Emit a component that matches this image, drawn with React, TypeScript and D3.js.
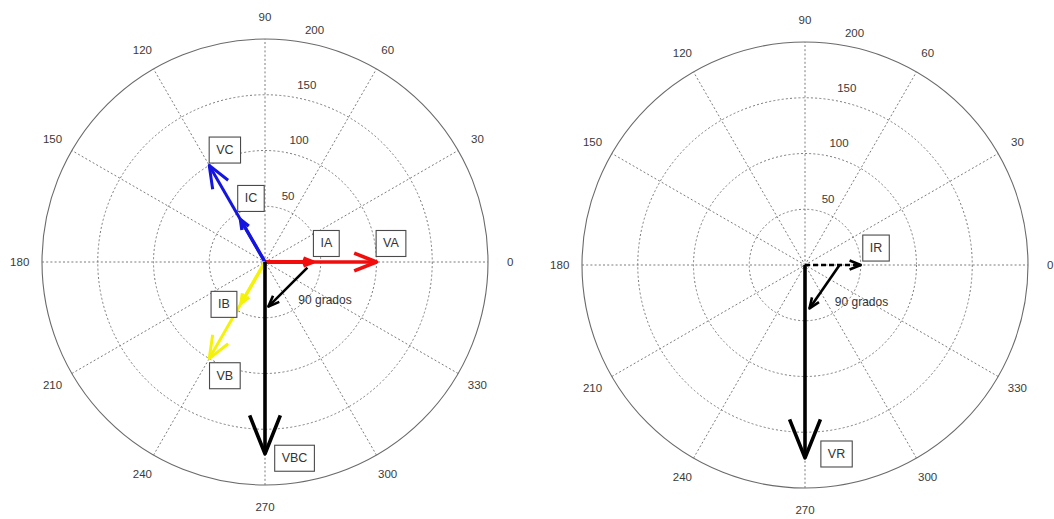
import React from 'react';
import * as d3 from 'd3';

const W = 1054;
const H = 519;

// polar grid
const radialTicks = [50, 100, 150, 200];
const angleTicks = [0, 30, 60, 90, 120, 150, 180, 210, 240, 270, 300, 330];
const rMax = 200;

// left diagram: phase voltages, line currents and the line voltage VBC
const leftNames = ['VA', 'IA', 'VC', 'IC', 'VB', 'IB', 'VBC'];
const leftMagnitudes = [100, 43, 100, 44, 100, 43, 172];
const leftAngles = [0, 0, 120, 120, 240, 240, 270];

// right diagram: single phasor pair
const rightNames = ['IR', 'VR'];
const rightMagnitudes = [50, 173];
const rightAngles = [0, 270];

// "90 grados" marker arrows, cartesian data coords [from, to]
const leftMarker = [[38, -5], [3, -40]];
const rightMarker = [[31, 0], [4, -39]];

// boxed labels (centre, data coords)
const leftLabelText = ['VC', 'IC', 'IA', 'VA', 'IB', 'VB', 'VBC'];
const leftLabelX = [-36, -12.6, 55, 113, -36.8, -36, 26.5];
const leftLabelY = [100.4, 57, 16.6, 16.6, -38, -102, -176];

const rightLabelText = ['IR', 'VR'];
const rightLabelX = [63.7, 28.3];
const rightLabelY = [15.2, -169.5];

// free text
const markerText = '90 grados';
const leftMarkerTextPos = [53.8, -34];
const rightMarkerTextPos = [50.7, -33.2];

const phasorStyle: Record<string, { color: string; width: number; dash?: string }> = {
  VA: { color: '#f20d0d', width: 3.6 },
  IA: { color: '#f20d0d', width: 3.8 },
  VC: { color: '#1515e0', width: 3 },
  IC: { color: '#1515e0', width: 3.4 },
  VB: { color: '#f5f20a', width: 3 },
  IB: { color: '#f5f20a', width: 3.4 },
  VBC: { color: '#000', width: 3.6 },
  IR: { color: '#000', width: 2.6, dash: '5 3' },
  VR: { color: '#000', width: 3.6 },
};

const FONT = '"Liberation Sans", Arial, sans-serif';
const R_PX = 223;

const rScale = d3.scaleLinear().domain([0, rMax]).range([0, R_PX]);

let measureCtx: CanvasRenderingContext2D | null = null;
function textWidth(t: string, size: number) {
  if (!measureCtx) measureCtx = document.createElement('canvas').getContext('2d');
  if (!measureCtx) return t.length * size * 0.6;
  measureCtx.font = `${size}px ${FONT}`;
  return measureCtx.measureText(t).width;
}

const line = d3.line<[number, number]>();

// compass-style arrow: shaft plus an open head of 0.2 length, 0.08 half-width
function arrowParts(x0: number, y0: number, x1: number, y1: number) {
  const dx = x1 - x0;
  const dy = y1 - y0;
  const L = Math.hypot(dx, dy);
  const ux = dx / L;
  const uy = dy / L;
  const bx = x1 - 0.2 * L * ux;
  const by = y1 - 0.2 * L * uy;
  const hw = 0.08 * L;
  const shaft = line([[x0, y0], [x1, y1]]) as string;
  const head = line([
    [bx - uy * hw, by + ux * hw],
    [x1, y1],
    [bx + uy * hw, by - ux * hw],
  ]) as string;
  return { shaft, head };
}

type PolarProps = {
  cx: number;
  cy: number;
  names: string[];
  magnitudes: number[];
  angles: number[];
  marker: number[][];
  labelText: string[];
  labelX: number[];
  labelY: number[];
  markerTextPos: number[];
};

function PolarPanel(p: PolarProps) {
  const { cx, cy } = p;
  const px = (x: number) => cx + rScale(x);
  const py = (y: number) => cy - rScale(y);
  const toRad = (a: number) => (a * Math.PI) / 180;
  const grid = '#7c7c7c';
  const dots = '2 2.2';

  const angleLabelR = rScale(rMax * 1.1);
  const a82 = toRad(82);

  return (
    <g>
      <circle cx={cx} cy={cy} r={rScale(rMax)} fill="#fff" stroke="#6a6a6a" strokeWidth={1.1} />
      {radialTicks.slice(0, -1).map((t) => (
        <circle key={t} cx={cx} cy={cy} r={rScale(t)} fill="none" stroke={grid} strokeWidth={1} strokeDasharray={dots} />
      ))}
      {angleTicks.slice(0, 6).map((a) => {
        const c = Math.cos(toRad(a)) * rScale(rMax);
        const s = Math.sin(toRad(a)) * rScale(rMax);
        return (
          <line key={a} x1={cx - c} y1={cy + s} x2={cx + c} y2={cy - s} stroke={grid} strokeWidth={1} strokeDasharray={dots} />
        );
      })}
      {angleTicks.map((a) => (
        <text
          key={a}
          x={cx + angleLabelR * Math.cos(toRad(a))}
          y={cy - angleLabelR * Math.sin(toRad(a))}
          fontFamily={FONT}
          fontSize={11.5}
          fill="#3a3a3a"
          textAnchor="middle"
          dominantBaseline="central"
        >
          {a}
        </text>
      ))}
      {radialTicks.map((t) => {
        const rr = rScale(t + rMax / 4 / 20);
        return (
          <text
            key={t}
            x={cx + rr * Math.cos(a82) + 8.5}
            y={cy - rr * Math.sin(a82) - 4.5}
            fontFamily={FONT}
            fontSize={11.5}
            fill="#3a3a3a"
          >
            {t}
          </text>
        );
      })}

      {p.names.map((n, i) => {
        const st = phasorStyle[n];
        const m = p.magnitudes[i];
        const a = toRad(p.angles[i]);
        const x1 = px(m * Math.cos(a));
        const y1 = py(m * Math.sin(a));
        const { shaft, head } = arrowParts(cx, cy, x1, y1);
        return (
          <g key={n} fill="none" stroke={st.color} strokeWidth={st.width} strokeLinejoin="round" strokeLinecap="butt">
            <path d={shaft} strokeDasharray={st.dash} />
            <path d={head} />
          </g>
        );
      })}

      {(() => {
        const [f, t] = p.marker;
        const { shaft, head } = arrowParts(px(f[0]), py(f[1]), px(t[0]), py(t[1]));
        return (
          <g fill="none" stroke="#000" strokeWidth={2.6} strokeLinejoin="round">
            <path d={shaft} />
            <path d={head} />
          </g>
        );
      })()}

      <text
        x={px(p.markerTextPos[0])}
        y={py(p.markerTextPos[1])}
        fontFamily={FONT}
        fontSize={12}
        fill="#333"
        textAnchor="middle"
        dominantBaseline="central"
      >
        {markerText}
      </text>

      {p.labelText.map((t, i) => {
        const x = px(p.labelX[i]);
        const y = py(p.labelY[i]);
        const w = textWidth(t, 12.5) + 14;
        const h = 26;
        return (
          <g key={t}>
            <rect x={x - w / 2} y={y - h / 2} width={w} height={h} fill="#fff" stroke="#4a4a4a" strokeWidth={1.1} />
            <text x={x} y={y} fontFamily={FONT} fontSize={12.5} fill="#333" textAnchor="middle" dominantBaseline="central">
              {t}
            </text>
          </g>
        );
      })}
    </g>
  );
}

export default function App() {
  return (
    <svg
      width={W}
      height={H}
      viewBox={`0 0 ${W} ${H}`}
      style={{ position: 'absolute', left: 0, top: 0, background: '#fff' }}
    >
      <rect width={W} height={H} fill="#fff" />
      <PolarPanel
        cx={265}
        cy={262}
        names={leftNames}
        magnitudes={leftMagnitudes}
        angles={leftAngles}
        marker={leftMarker}
        labelText={leftLabelText}
        labelX={leftLabelX}
        labelY={leftLabelY}
        markerTextPos={leftMarkerTextPos}
      />
      <PolarPanel
        cx={805}
        cy={265}
        names={rightNames}
        magnitudes={rightMagnitudes}
        angles={rightAngles}
        marker={rightMarker}
        labelText={rightLabelText}
        labelX={rightLabelX}
        labelY={rightLabelY}
        markerTextPos={rightMarkerTextPos}
      />
    </svg>
  );
}
